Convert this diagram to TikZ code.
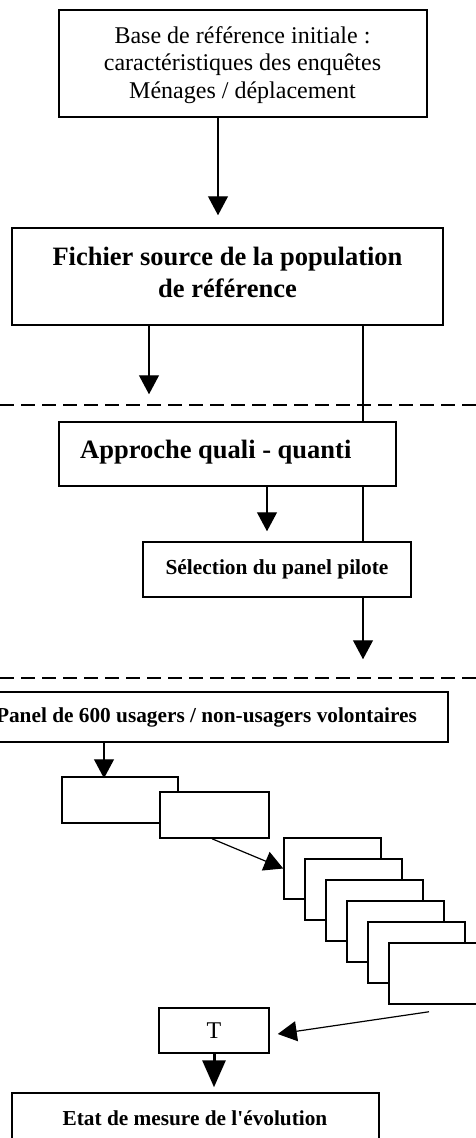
\documentclass[tikz,border=0pt]{standalone}
\usepackage{fontspec}
\setmainfont{Liberation Serif}
\usetikzlibrary{arrows.meta,calc}
\begin{document}
\begin{tikzpicture}[x=1pt,y=-1pt,
 box/.style={draw, line width=1.5pt, fill=white, inner sep=0pt, align=center},
 txt/.style={inner sep=0pt, anchor=base},
 conn/.style={line width=1.2pt},
 arr/.style={line width=1.2pt, -{Triangle[width=20pt,length=19pt]}},
 bigarr/.style={line width=3pt, -{Triangle[width=23pt,length=27pt]}},
 sep/.style={line width=1.2pt, dash pattern=on 14pt off 7pt}]
\clip (0,0) rectangle (476,1138);
% boxes
\node[box, minimum width=368pt, minimum height=107pt] (b1) at (243,63.5) {};
\node[box, minimum width=431pt, minimum height=97pt] (b2) at (227.5,276.5) {};
\node[box, minimum width=337pt, minimum height=64pt] (b3) at (227.5,454) {};
\node[box, minimum width=268pt, minimum height=55pt, font=\fontsize{21.4}{25}\selectfont\bfseries] (b4) at (277,569.5) {Sélection du panel pilote};
\node[box, minimum width=483pt, minimum height=50pt, font=\fontsize{21.3}{25}\selectfont\bfseries] (b5) at (206.5,717) {Panel de 600 usagers / non-usagers volontaires};
\node[box, minimum width=116pt, minimum height=46pt] (bA) at (120,800) {};
\node[box, minimum width=109pt, minimum height=46pt] (bB) at (214.5,815) {};
\foreach \i in {0,...,5}{
  \node[box, minimum width=97pt, minimum height=61pt] (c\i) at (332.5+21*\i,868.5+21*\i) {};
}
\node[box, minimum width=110pt, minimum height=45pt, font=\fontsize{24}{27}\selectfont] (T) at (214,1030.5) {T};
\node[box, minimum width=367pt, minimum height=64pt] (last) at (195.5,1125) {};
% texts
\begin{scope}[font=\fontsize{24}{27.5}\selectfont]
\node[txt] (b1t1) at (242.5,43) {Base de référence initiale :};
\node[txt] (b1t2) at (242.5,70.5) {caractéristiques des enquêtes};
\node[txt] (b1t3) at (242.5,98) {Ménages / déplacement};
\end{scope}
\begin{scope}[font=\fontsize{26.5}{31}\selectfont\bfseries]
\node[txt] (b2t1) at (227.5,265) {Fichier source de la population};
\node[txt] (b2t2) at (227.5,297) {de référence};
\node[txt, anchor=base west] (b3t) at (80,458) {Approche quali - quanti};
\end{scope}
\node[txt, font=\fontsize{21.3}{25}\selectfont\bfseries] (lastt) at (195,1125) {Etat de mesure de l\textquotesingle évolution};
% separators
\coordinate (dl1) at (0,405); \coordinate (dr1) at (476,405);
\coordinate (dl2) at (0,678); \coordinate (dr2) at (476,678);
\draw[sep] (dl1) -- (dr1);
\draw[sep] (dl2) -- (dr2);
% connectors
\draw[arr] ($(b1.south)+(-25,0)$) -- ($(b2.north)+(-9.5,-12)$);
\draw[arr] ($(b2.south)+(-78.5,0)$) -- ($(b3.north)+(-78.5,-27)$);
\draw[conn] ($(b2.south)+(135.5,0)$) -- ($(b3.north)+(135.5,0)$);
\draw[arr] ($(b3.south)+(39.5,0)$) -- ($(b4.north)+(-10,-10)$);
\draw[conn] ($(b3.south)+(135.5,0)$) -- ($(b4.north)+(86,0)$);
\draw[arr] ($(b4.south)+(86,0)$) -- ($(b5.north)+(156.5,-32)$);
\draw[arr] ($(b5.south)+(-102.5,0)$) -- ($(bA.north)+(-16,2)$);
\draw[arr] ($(bB.south)+(-2.5,0)$) -- (c0.west);
\draw[arr] ($(c5.south)+(-8.5,7)$) -- ($(T.east)+(8,3.5)$);
\draw[bigarr] (T.south) -- ($(last.north)+(18.5,-5)$);
\end{tikzpicture}
\end{document}
